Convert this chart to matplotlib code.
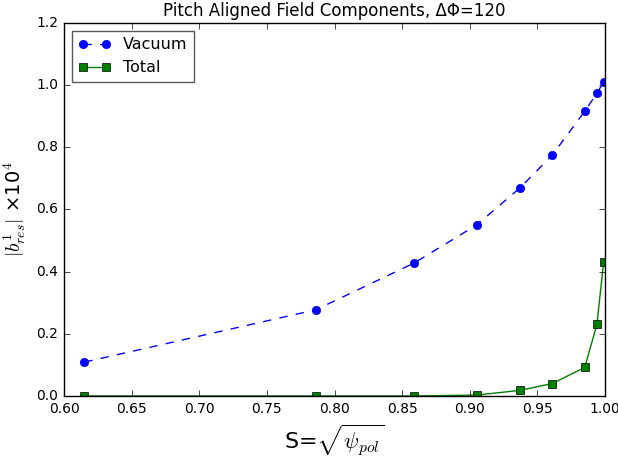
import matplotlib
matplotlib.use("Agg")
import matplotlib.pyplot as plt

plt.style.use("classic")
plt.rcParams["mathtext.fontset"] = "cm"

s_vals = [0.615, 0.786, 0.859, 0.905, 0.937, 0.961, 0.985, 0.994, 0.999]
vacuum = [0.109, 0.277, 0.428, 0.550, 0.669, 0.775, 0.916, 0.974, 1.010]
total = [0.0, 0.0, 0.0, 0.003, 0.018, 0.040, 0.092, 0.230, 0.432]

fig = plt.figure(figsize=(6.18, 4.57), dpi=100, facecolor="white")
ax = fig.add_axes([0.1036, 0.1335, 0.8754, 0.8162])

ax.plot(s_vals, vacuum, "bo--", label="Vacuum", markersize=6, markeredgecolor="b")
ax.plot(s_vals, total, "gs-", label="Total", markersize=6, markeredgecolor="k")

ax.set_xlim(0.60, 1.00)
ax.set_ylim(0.0, 1.2)
ax.set_xticks([0.60, 0.65, 0.70, 0.75, 0.80, 0.85, 0.90, 0.95, 1.00])
ax.set_yticks([0.0, 0.2, 0.4, 0.6, 0.8, 1.0, 1.2])
ax.tick_params(labelsize=10)

ax.set_title("Pitch Aligned Field Components, ΔΦ=120", fontsize=12)
ax.set_xlabel(r"S=$\sqrt{\psi_{pol}}$", fontsize=16)
ax.set_ylabel(r"$|b^1_{res}|$ ×10$^4$", fontsize=14, labelpad=6)

leg = ax.legend(loc="upper left", fontsize=11.5, numpoints=2)
leg.get_frame().set_edgecolor("0.35")

fig.savefig("out.png", dpi=100, facecolor="white")
